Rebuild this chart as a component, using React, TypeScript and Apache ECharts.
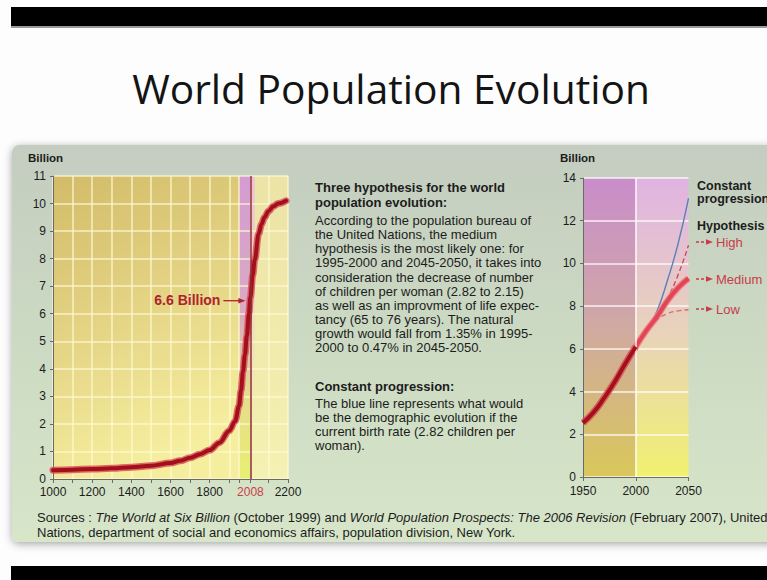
import React, { useEffect, useRef } from 'react';
import * as echarts from 'echarts';

// World population from year 1000 to 2200, in billions
const worldYears = [1000, 1100, 1200, 1300, 1400, 1500, 1600, 1650, 1700, 1750, 1800, 1850, 1900, 1930, 1950, 1960, 1970, 1980, 1990, 2000, 2008, 2020, 2030, 2050, 2065, 2080, 2100, 2125, 2150, 2190];
const worldPop = [0.32, 0.34, 0.36, 0.39, 0.43, 0.48, 0.58, 0.66, 0.77, 0.9, 1.05, 1.32, 1.75, 2.1, 2.65, 3.2, 3.9, 4.5, 5.2, 6.0, 6.6, 7.4, 7.95, 8.9, 9.25, 9.5, 9.72, 9.9, 10.0, 10.1];

const markedYear = 2008;
const markedPop = 6.6;

const leftLabelYears = [1000, 1200, 1400, 1600, 1800, 2008, 2200];
const leftTickYears = [1000, 1100, 1200, 1300, 1400, 1500, 1600, 1700, 1800, 1900, 1950, 2008, 2100, 2200];

// 1950-2050: observed and projected (billions)
const recentYears = [1950, 1960, 1970, 1980, 1990, 2000];
const recentPop = [2.53, 3.03, 3.7, 4.45, 5.3, 6.1];
const projYears = [2000, 2010, 2020, 2030, 2040, 2050];
const mediumPop = [6.1, 6.85, 7.5, 8.25, 8.85, 9.3];
const highPop = [6.1, 6.8, 7.45, 8.35, 9.45, 10.85];
const lowPop = [6.1, 6.8, 7.35, 7.65, 7.78, 7.83];
const constantPop = [6.1, 6.8, 7.75, 9.2, 10.9, 13.05];

const hypothesisTitle = ['Three hypothesis for the world', 'population evolution:'];
const hypothesisText = [
  'According to the population bureau of',
  'the United Nations, the medium',
  'hypothesis is the most likely one: for',
  '1995-2000 and 2045-2050, it takes into',
  'consideration the decrease of number',
  'of children per woman (2.82 to 2.15)',
  'as well as an improvment of life expec-',
  'tancy (65 to 76 years). The natural',
  'growth would fall from 1.35% in 1995-',
  '2000 to 0.47% in 2045-2050.',
];
const constantTitle = 'Constant progression:';
const constantText = [
  'The blue line represents what would',
  'be the demographic evolution if the',
  'current birth rate (2.82 children per',
  'woman).',
];
const sourceLines = [
  'Sources : {i|The World at Six Billion} (October 1999) and {i|World Population Prospects: The 2006 Revision} (February 2007), United',
  'Nations, department of social and economics affairs, population division, New York.',
];
const legendHigh = 'High';
const legendMedium = 'Medium';
const legendLow = 'Low';

const FONT = '"Liberation Sans", Arial, sans-serif';
const INK = '#1c1c1c';

const pairs = (xs: number[], ys: number[]) => xs.map((x, i) => [x, ys[i]]);

const vgrad = (stops: [number, string][], x2 = 0) =>
  new echarts.graphic.LinearGradient(0, 0, x2, 1, stops.map(([offset, color]) => ({ offset, color })));

const axisLabelBase = { fontFamily: FONT, fontSize: 12, color: INK };
const axisLineStyle = { color: '#6a6a6a', width: 1 };
const plain = (v: number) => String(v);

function buildOption(): any {
  return {
    animation: false,
    backgroundColor: '#fdfdfd',
    grid: [
      { left: 53, top: 176, width: 235, height: 303 },
      { left: 583, top: 178, width: 105.5, height: 299 },
    ],
    xAxis: [
      {
        gridIndex: 0, type: 'value', min: 1000, max: 2200, interval: 100, z: 2,
        axisLine: { show: true, lineStyle: axisLineStyle },
        axisTick: { show: true, length: 4, customValues: leftTickYears, lineStyle: axisLineStyle },
        axisLabel: {
          ...axisLabelBase, margin: 7, customValues: leftLabelYears,
          formatter: (v: number) => (v === markedYear ? `{r|${v}}` : `${v}`),
          rich: { r: { color: '#c8404a', fontFamily: FONT, fontSize: 12 } },
        },
        splitLine: { show: true, lineStyle: { color: 'rgba(255,250,212,0.8)', width: 1.5 } },
      },
      {
        gridIndex: 1, type: 'value', min: 1950, max: 2050, interval: 50, z: 2,
        axisLine: { show: true, lineStyle: axisLineStyle },
        axisTick: { show: true, length: 4, lineStyle: axisLineStyle },
        axisLabel: { ...axisLabelBase, margin: 8, formatter: plain },
        splitLine: { show: false },
      },
    ],
    yAxis: [
      {
        gridIndex: 0, type: 'value', min: 0, max: 11, interval: 1, z: 2,
        axisLine: { show: true, lineStyle: axisLineStyle },
        axisTick: { show: true, length: 3, lineStyle: axisLineStyle },
        axisLabel: { ...axisLabelBase, margin: 7, formatter: plain },
        splitLine: { show: true, lineStyle: { color: 'rgba(255,250,212,0.8)', width: 1.5 } },
      },
      {
        gridIndex: 1, type: 'value', min: 0, max: 14, interval: 2, z: 2,
        axisLine: { show: true, lineStyle: axisLineStyle },
        axisTick: { show: true, length: 3, lineStyle: axisLineStyle },
        axisLabel: { ...axisLabelBase, margin: 7, formatter: plain },
        splitLine: { show: true, lineStyle: { color: 'rgba(255,255,255,0.85)', width: 1.5 } },
      },
    ],
    series: [
      // plot backgrounds, 1000-2200
      {
        type: 'line', xAxisIndex: 0, yAxisIndex: 0, z: 1, silent: true, symbol: 'none',
        data: pairs(worldYears, worldPop), lineStyle: { opacity: 0 },
        markArea: {
          silent: true,
          data: [
            [
              { xAxis: 1000, yAxis: 0, itemStyle: { color: vgrad([[0, '#d2bb68'], [0.5, '#e3d383'], [1, '#f5ee9e']], 0.3) } },
              { xAxis: 1950, yAxis: 11 },
            ],
            [
              { xAxis: 1950, yAxis: 0, itemStyle: { color: vgrad([[0, '#d49bd2'], [0.45, '#d9abc2'], [0.72, '#e6dc8c'], [1, '#e7ef72']]) } },
              { xAxis: markedYear, yAxis: 11 },
            ],
            [
              { xAxis: markedYear, yAxis: 0, itemStyle: { color: vgrad([[0, '#ece3a6'], [1, '#f4f1b2']]) } },
              { xAxis: 2200, yAxis: 11 },
            ],
            [
              { xAxis: markedYear, yAxis: 0, itemStyle: { color: vgrad([[0, 'rgba(238,188,222,0.9)'], [0.6, 'rgba(240,210,200,0.35)'], [1, 'rgba(243,240,178,0)']]) } },
              { xAxis: 2030, yAxis: 11 },
            ],
          ],
        },
        markLine: {
          silent: true, symbol: 'none', label: { show: false },
          lineStyle: { color: '#8c2a33', width: 1.5, type: 'solid' },
          data: [{ xAxis: markedYear }],
        },
      },
      {
        type: 'line', xAxisIndex: 0, yAxisIndex: 0, z: 3, silent: true, symbol: 'none',
        smooth: 0.35, smoothMonotone: 'x', data: pairs(worldYears, worldPop),
        lineStyle: { color: 'rgba(214,72,84,0.8)', width: 7, cap: 'round' },
      },
      {
        type: 'line', xAxisIndex: 0, yAxisIndex: 0, z: 4, silent: true, symbol: 'none',
        smooth: 0.35, smoothMonotone: 'x', data: pairs(worldYears, worldPop),
        lineStyle: { color: '#a3101c', width: 4, cap: 'round' },
      },
      // plot backgrounds, 1950-2050
      {
        type: 'line', xAxisIndex: 1, yAxisIndex: 1, z: 1, silent: true, symbol: 'none',
        data: pairs(recentYears, recentPop), lineStyle: { opacity: 0 },
        markArea: {
          silent: true,
          data: [
            [
              { xAxis: 1950, yAxis: 0, itemStyle: { color: vgrad([[0, '#c98dca'], [0.45, '#cfa6a8'], [1, '#d9c85a']]) } },
              { xAxis: 2000, yAxis: 14 },
            ],
            [
              { xAxis: 2000, yAxis: 0, itemStyle: { color: vgrad([[0, '#e0b3e2'], [0.5, '#e8d2bc'], [1, '#f1f170']]) } },
              { xAxis: 2050, yAxis: 14 },
            ],
          ],
        },
        markLine: {
          silent: true, symbol: 'none', label: { show: false },
          lineStyle: { color: 'rgba(255,255,255,0.9)', width: 1.5, type: 'solid' },
          data: [{ xAxis: 2000 }],
        },
      },
      {
        name: 'Constant', type: 'line', xAxisIndex: 1, yAxisIndex: 1, z: 3, silent: true, symbol: 'none',
        smooth: true, data: pairs(projYears, constantPop),
        lineStyle: { color: '#5b7fb9', width: 1.4 },
      },
      {
        name: 'High', type: 'line', xAxisIndex: 1, yAxisIndex: 1, z: 3, silent: true, symbol: 'none',
        smooth: true, data: pairs(projYears, highPop),
        lineStyle: { color: '#d0404e', width: 1.3, type: [5, 3] },
      },
      {
        name: 'Low', type: 'line', xAxisIndex: 1, yAxisIndex: 1, z: 3, silent: true, symbol: 'none',
        smooth: true, data: pairs(projYears, lowPop),
        lineStyle: { color: '#d86a74', width: 1.3, type: [5, 3] },
      },
      {
        type: 'line', xAxisIndex: 1, yAxisIndex: 1, z: 3, silent: true, symbol: 'none',
        smooth: true, data: pairs(projYears, mediumPop),
        lineStyle: { color: 'rgba(244,120,130,0.85)', width: 6.5 },
      },
      {
        name: 'Medium', type: 'line', xAxisIndex: 1, yAxisIndex: 1, z: 4, silent: true, symbol: 'none',
        smooth: true, data: pairs(projYears, mediumPop),
        lineStyle: { color: '#e04656', width: 4 },
      },
      {
        type: 'line', xAxisIndex: 1, yAxisIndex: 1, z: 4, silent: true, symbol: 'none',
        smooth: true, data: pairs(recentYears, recentPop),
        lineStyle: { color: 'rgba(214,72,84,0.8)', width: 7 },
      },
      {
        type: 'line', xAxisIndex: 1, yAxisIndex: 1, z: 5, silent: true, symbol: 'none',
        smooth: true, data: pairs(recentYears, recentPop),
        lineStyle: { color: '#a3101c', width: 4 },
      },
    ],
  };
}

const text = (x: number, y: number, str: string, extra: any = {}) => ({
  type: 'text', x, y, z: 20, silent: true,
  style: { text: str, fontFamily: FONT, fontSize: 13, fill: INK, align: 'left', verticalAlign: 'middle', ...extra },
});

const arrow = (x: number, y: number, color: string, dashed: boolean, len: number) => [
  {
    type: 'line', z: 20, silent: true,
    shape: { x1: x, y1: y, x2: x + len, y2: y },
    style: { stroke: color, lineWidth: 1.3, lineDash: dashed ? [3, 2] : null },
  },
  {
    type: 'polygon', z: 20, silent: true,
    shape: { points: [[x + len - 1, y - 2.8], [x + len + 6, y], [x + len - 1, y + 2.8]] },
    style: { fill: color },
  },
];

function buildGraphics(mark: number[]): any[] {
  const [mx, my] = mark;
  const red = '#b0222c';
  const legendRed = '#c83c4a';
  return [
    // slide frame
    { type: 'rect', z: 0, silent: true, shape: { x: 11, y: 7, width: 770, height: 19 }, style: { fill: '#000' } },
    { type: 'rect', z: 0, silent: true, shape: { x: 11, y: 26, width: 770, height: 2 }, style: { fill: '#9a9a9a' } },
    { type: 'rect', z: 0, silent: true, shape: { x: 11, y: 566, width: 770, height: 14 }, style: { fill: '#000' } },
    {
      type: 'text', x: 391, y: 88, z: 20, silent: true,
      style: { text: 'World Population Evolution', fontFamily: '"Open Sans", "Noto Sans", sans-serif', fontSize: 40.7, fill: '#141414', align: 'center', verticalAlign: 'middle' },
    },
    // panel
    {
      type: 'rect', z: 0, silent: true,
      shape: { x: 12, y: 145, width: 790, height: 397, r: 7 },
      style: {
        fill: vgrad([[0, '#c4cdc0'], [0.5, '#ccdac3'], [1, '#d7e6c9']]),
        shadowBlur: 8, shadowColor: 'rgba(0,0,0,0.35)', shadowOffsetY: 2,
      },
    },
    text(28, 158, 'Billion', { fontWeight: 'bold', fontSize: 11.5 }),
    text(560, 158, 'Billion', { fontWeight: 'bold', fontSize: 11.5 }),
    // annotation of the 2008 value
    text(mx - 30, my + 3, `${markedPop} Billion`, { fontWeight: 'bold', fontSize: 14, fill: red, align: 'right' }),
    ...arrow(mx - 27, my + 3.5, red, false, 16),
    // explanatory text
    text(315, 179.5, hypothesisTitle.join('\n'), { fontWeight: 'bold', verticalAlign: 'top', lineHeight: 15 }),
    text(315, 213.6, hypothesisText.join('\n'), { verticalAlign: 'top', lineHeight: 14.1 }),
    text(315, 386, constantTitle, { fontWeight: 'bold' }),
    text(315, 396.2, constantText.join('\n'), { verticalAlign: 'top', lineHeight: 14.2 }),
    // projection labels
    text(697, 179.5, 'Constant\nprogression', { fontWeight: 'bold', fontSize: 12.5, verticalAlign: 'top', lineHeight: 13 }),
    text(697, 226, 'Hypothesis', { fontWeight: 'bold', fontSize: 12.5 }),
    ...arrow(696, 242, legendRed, true, 11),
    text(716, 242, legendHigh, { fill: legendRed }),
    ...arrow(696, 279, legendRed, true, 11),
    text(716, 279, legendMedium, { fill: legendRed }),
    ...arrow(696, 309, legendRed, true, 11),
    text(716, 309, legendLow, { fill: legendRed }),
    // sources
    text(37, 510, sourceLines.join('\n'), {
      fontSize: 13, verticalAlign: 'top', lineHeight: 15,
      rich: { i: { fontStyle: 'italic', fontFamily: FONT, fontSize: 13, fill: INK, lineHeight: 15 } },
    }),
  ];
}

export default function App() {
  const ref = useRef<HTMLDivElement>(null);
  useEffect(() => {
    const chart = echarts.init(ref.current!, null, { renderer: 'svg' });
    chart.setOption(buildOption());
    const mark = chart.convertToPixel({ gridIndex: 0 }, [markedYear, markedPop]) as number[];
    chart.setOption({ graphic: { elements: buildGraphics(mark) } });
    return () => chart.dispose();
  }, []);
  return <div ref={ref} style={{ position: 'fixed', left: 0, top: 0, width: 767, height: 580 }} />;
}
